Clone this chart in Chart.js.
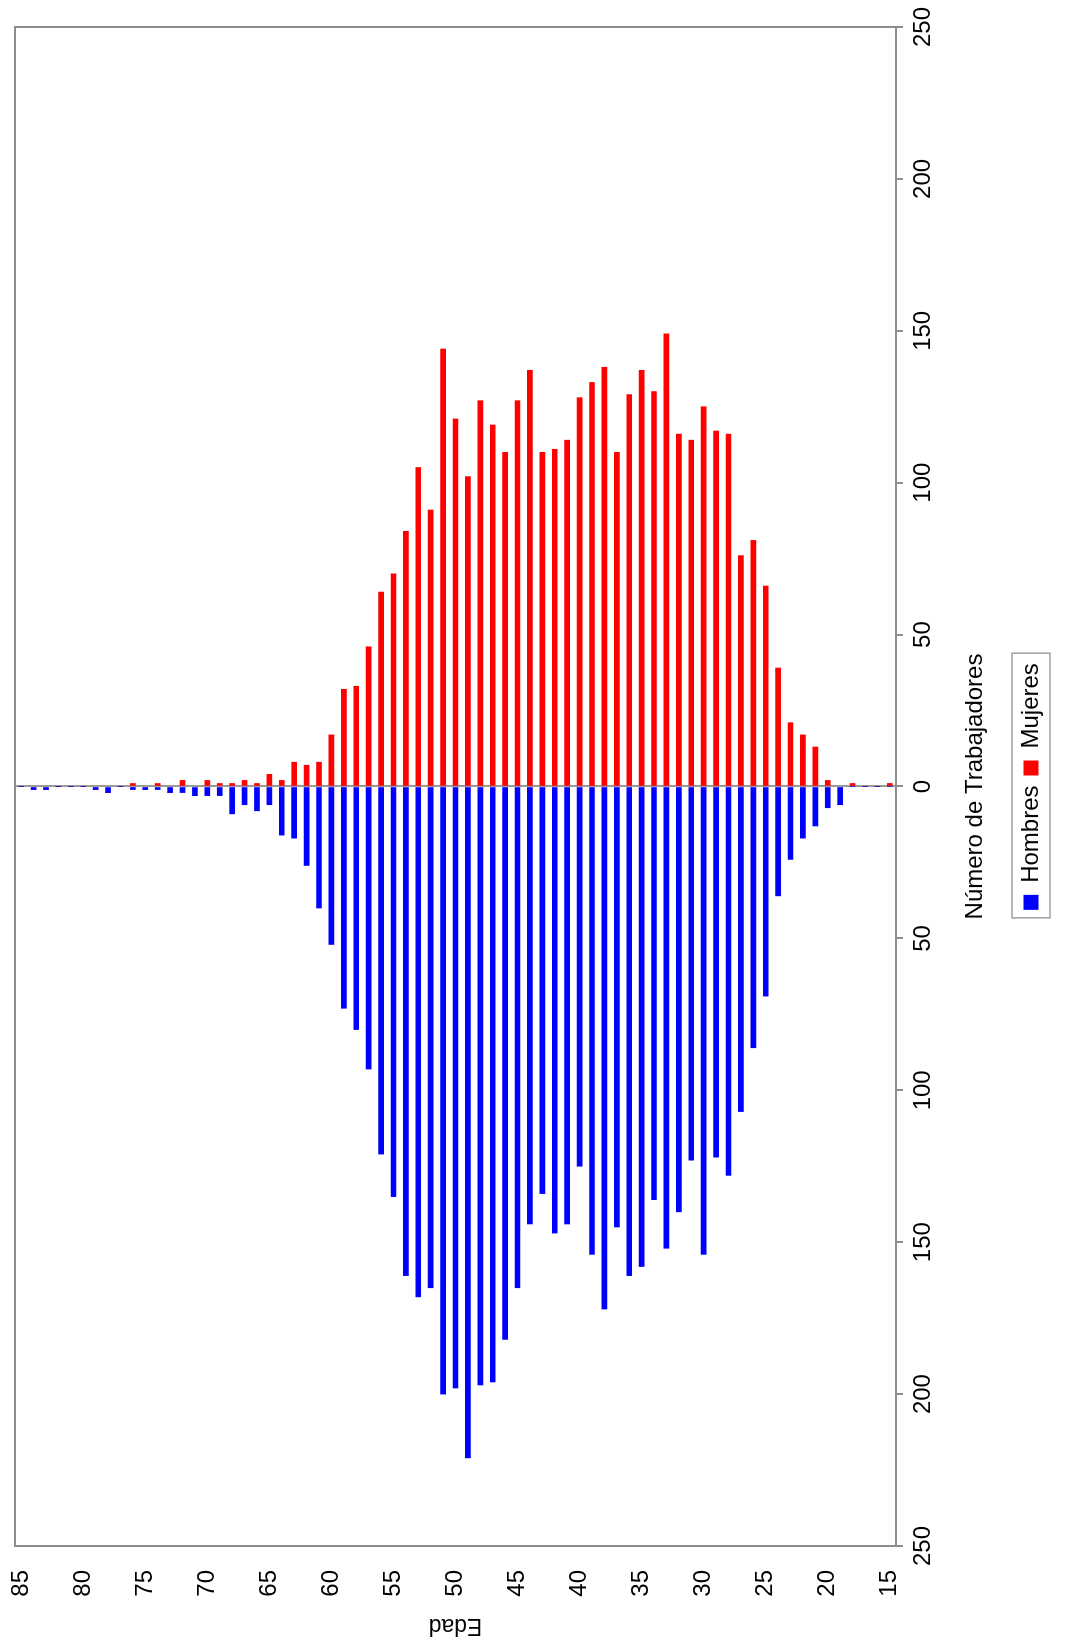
<!DOCTYPE html>
<html lang="es">
<head>
<meta charset="utf-8">
<title>Edad / Número de Trabajadores</title>
<script src="https://cdn.jsdelivr.net/npm/chart.js@4.4.2/dist/chart.umd.min.js"></script>
<style>
  html, body { margin: 0; padding: 0; background: #fff; overflow: hidden; }
  body { width: 1065px; height: 1641px; position: relative; }
  /* the pyramid is drawn upright, then turned a quarter turn like the reference */
  #wrap {
    position: absolute; left: 0; top: 0;
    width: 1641px; height: 1065px;
    transform-origin: 0 0;
    transform: translateY(1641px) rotate(-90deg);
  }
</style>
</head>
<body>
<div id="wrap"><canvas id="chart" width="1641" height="1065"></canvas></div>
<script>
// ── Data ───────────────────────────────────────────────────────
const ages = [
  85, 84, 83, 82, 81, 80, 79, 78, 77, 76, 75, 74, 73, 72, 71, 70,
  69, 68, 67, 66, 65, 64, 63, 62, 61, 60, 59, 58, 57, 56, 55, 54,
  53, 52, 51, 50, 49, 48, 47, 46, 45, 44, 43, 42, 41, 40, 39, 38,
  37, 36, 35, 34, 33, 32, 31, 30, 29, 28, 27, 26, 25, 24, 23, 22,
  21, 20, 19, 18, 17, 16, 15
];
const hombres = [
  0, 1, 1, 0, 0, 0, 1, 2, 0, 1, 1, 1, 2, 2, 3, 3,
  3, 9, 6, 8, 6, 16, 17, 26, 40, 52, 73, 80, 93, 121, 135, 161,
  168, 165, 200, 198, 221, 197, 196, 182, 165, 144, 134, 147, 144, 125, 154, 172,
  145, 161, 158, 136, 152, 140, 123, 154, 122, 128, 107, 86, 69, 36, 24, 17,
  13, 7, 6, 0, 0, 0, 0
];
const mujeres = [
  0, 0, 0, 0, 0, 0, 0, 0, 0, 1, 0, 1, 0, 2, 0, 2,
  1, 1, 2, 1, 4, 2, 8, 7, 8, 17, 32, 33, 46, 64, 70, 84,
  105, 91, 144, 121, 102, 127, 119, 110, 127, 137, 110, 111, 114, 128, 133, 138,
  110, 129, 137, 130, 149, 116, 114, 125, 117, 116, 76, 81, 66, 39, 21, 17,
  13, 2, 0, 1, 0, 0, 1
];
const valueMin = -250;
const valueMax = 250;
const valueStep = 50;

const FONT = 'Liberation Sans, Arial, sans-serif';
const AXIS_GREY = '#8c8c8c';

// frame round the plot + the box round the legend
const framePlugin = {
  id: 'frame',
  afterDatasetsDraw(chart) {
    const { ctx, chartArea: a } = chart;
    ctx.save();
    ctx.strokeStyle = AXIS_GREY;
    ctx.lineWidth = 2;
    ctx.strokeRect(a.left, a.top, a.right - a.left, a.bottom - a.top);
    ctx.restore();
  },
  afterDraw(chart) {
    const boxes = chart.legend && chart.legend.legendHitBoxes;
    if (!boxes || !boxes.length) return;
    const left = Math.min(...boxes.map(b => b.left)) - 8;
    const right = Math.max(...boxes.map(b => b.left + b.width)) + 10;
    const top = Math.min(...boxes.map(b => b.top)) - 7;
    const bottom = Math.max(...boxes.map(b => b.top + b.height)) + 7;
    const ctx = chart.ctx;
    ctx.save();
    ctx.strokeStyle = '#a0a0a0';
    ctx.lineWidth = 1.5;
    ctx.strokeRect(left, top, right - left, bottom - top);
    ctx.restore();
  }
};

new Chart(document.getElementById('chart').getContext('2d'), {
  type: 'bar',
  data: {
    labels: ages,
    datasets: [
      {
        label: 'Hombres',
        data: hombres.map(v => -v),
        backgroundColor: '#0000ff',
        barThickness: 5,
      },
      {
        label: 'Mujeres',
        data: mujeres,
        backgroundColor: '#ff0000',
        barThickness: 5,
      }
    ],
  },
  options: {
    indexAxis: 'y',
    responsive: false,
    animation: false,
    layout: { padding: { left: 0, right: 27, top: 15, bottom: 12 } },
    plugins: {
      tooltip: { enabled: false },
      legend: {
        display: true,
        position: 'bottom',
        fullSize: false,
        labels: {
          color: '#000',
          boxWidth: 15,
          boxHeight: 15,
          padding: 10,
          font: { family: FONT, size: 24 },
        }
      }
    },
    scales: {
      x: {
        stacked: true,
        min: valueMin,
        max: valueMax,
        afterFit: s => { s.height = 113; },
        border: { display: false },
        grid: {
          color: c => (c.tick && c.tick.value === 0 ? '#9a9a9a' : 'transparent'),
          lineWidth: 2,
          tickColor: AXIS_GREY,
          tickLength: 7,
        },
        ticks: {
          stepSize: valueStep,
          padding: 6,
          color: '#000',
          font: { family: FONT, size: 24 },
          callback: v => Math.abs(v),
        },
        title: {
          display: true,
          text: 'Número de Trabajadores',
          color: '#000',
          font: { family: FONT, size: 24 },
          padding: { top: 0, bottom: 19 },
        }
      },
      y: {
        stacked: true,
        afterFit: s => { s.width = 95; },
        border: { display: false },
        // no tick marks drawn; tickLength only keeps the labels off the frame
        grid: { display: false, drawTicks: true, tickLength: 24 },
        ticks: {
          autoSkip: false,
          padding: 0,
          color: '#000',
          font: { family: FONT, size: 24 },
          callback: (v, i) => (ages[i] % 5 === 0 ? ages[i] : ''),
        },
        title: {
          display: true,
          text: 'Edad',
          color: '#000',
          font: { family: FONT, size: 23 },
          padding: { top: 2, bottom: 0 },
        }
      }
    }
  },
  plugins: [framePlugin]
});
</script>
</body>
</html>
